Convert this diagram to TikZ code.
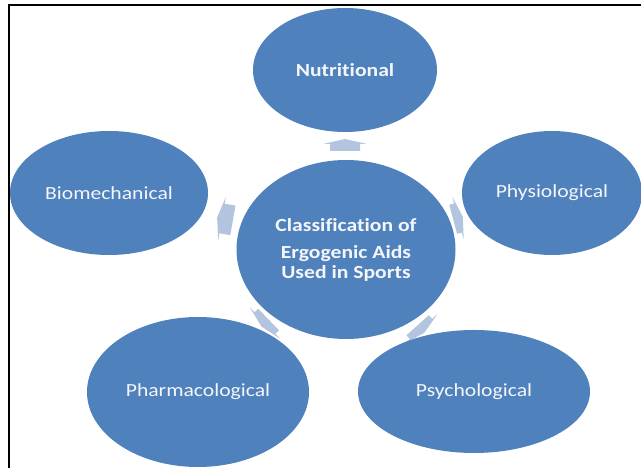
\documentclass[tikz,border=0pt]{standalone}
\usepackage{fontspec}
\setmainfont{Carlito}[Ligatures=NoCommon]
\usetikzlibrary{shapes.geometric}
\definecolor{discblue}{HTML}{4F81BD}
\definecolor{arrowtint}{HTML}{B3C4DF}
\definecolor{labeltext}{HTML}{F4F6FA}
\tikzset{
  disc/.style={ellipse, fill=discblue, draw=none, inner sep=0pt,
    text=labeltext, align=center,
    font=\fontsize{18.5}{20}\selectfont},
  blockarrow/.pic={
    \fill[arrowtint] (-#1,-15) -- (#1-5,-15) -- (#1-5,-22) -- (#1,0)
      -- (#1-5,22) -- (#1-5,15) -- (-#1,15) -- cycle;
  },
  blockarrow/.default=7
}
\newcommand{\wide}[1]{\scalebox{1.17}[1]{#1}}
\begin{document}
\begin{tikzpicture}[x=1pt,y=1pt]
  \useasboundingbox (0,0) rectangle (641,468);
  \fill[white] (0,0) rectangle (641,468);
  % frame: only the left and top edges lie inside the picture
  \draw[line width=2pt] (9,0) -- (9,463) -- (641,463);

  % block arrows, drawn first so the discs cover their ends
  \pic[rotate=90]  at (345,323) {blockarrow=6};
  \pic[rotate=170] at (225,249) {blockarrow=8};
  \pic[rotate=15]  at (458,250) {blockarrow=5};
  \pic[rotate=224] at (265,145) {blockarrow=5};
  \pic[rotate=-48] at (421,139) {blockarrow=5};

  % hub and outer discs
  \node[disc, minimum width=219pt, minimum height=179pt] (hub) at (346,218.5)
    {\wide{\bfseries Classification of}\\[7pt]
     \wide{\bfseries Ergogenic Aids}\\
     \wide{\bfseries Used in Sports}};
  \node[disc, minimum width=184pt, minimum height=124pt] (nut) at (345,398)
    {\wide{\bfseries Nutritional}};
  \node[disc, minimum width=180pt, minimum height=124pt] (phy) at (552,275)
    {\wide{Physiological}};
  \node[disc, minimum width=198pt, minimum height=124pt] (bio) at (109,275)
    {\wide{Biomechanical}};
  \node[disc, minimum width=222pt, minimum height=150pt] (pha) at (198,76)
    {\wide{Pharmacological}};
  \node[disc, minimum width=232pt, minimum height=123pt] (psy) at (474,76.5)
    {\wide{Psychological}};
\end{tikzpicture}
\end{document}
